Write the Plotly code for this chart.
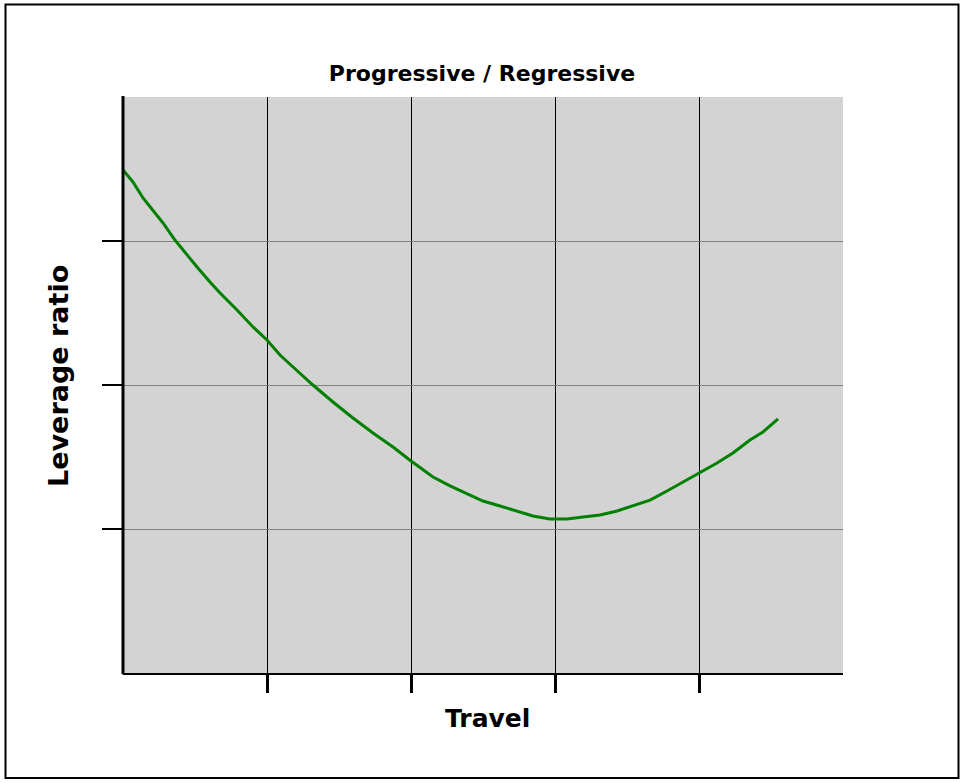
import plotly.graph_objects as go

travel = [0.0, 0.069, 0.139, 0.208, 0.278, 0.361, 0.444, 0.514, 0.604, 0.674, 0.792, 0.903,
          1.0, 1.090, 1.181, 1.319, 1.458, 1.597, 1.736, 1.875, 2.0, 2.153, 2.271, 2.389,
          2.5, 2.618, 2.736, 2.847, 2.965, 3.083, 3.194, 3.313, 3.431, 3.542, 3.660, 3.778,
          3.889, 4.0, 4.125, 4.236, 4.354, 4.444, 4.549]
leverage = [3.493, 3.410, 3.299, 3.215, 3.125, 3.007, 2.903, 2.819, 2.715, 2.639, 2.521, 2.403,
            2.313, 2.208, 2.125, 2.0, 1.882, 1.771, 1.667, 1.569, 1.472, 1.361, 1.299, 1.243,
            1.194, 1.160, 1.125, 1.090, 1.069, 1.069, 1.083, 1.097, 1.125, 1.160, 1.201, 1.264,
            1.326, 1.389, 1.458, 1.528, 1.618, 1.674, 1.764]
x_ticks = [1, 2, 3, 4]
y_ticks = [1, 2, 3]

fig = go.Figure()
fig.add_trace(go.Scatter(x=travel, y=leverage, mode="lines",
                         line=dict(color="#008000", width=3),
                         hoverinfo="skip", showlegend=False))

fig.update_layout(
    width=964, height=783,
    margin=dict(l=123, r=121, t=97, b=110),
    paper_bgcolor="white", plot_bgcolor="#d3d3d3",
    title=dict(text="<b>Progressive / Regressive</b>", x=0.5, xanchor="center",
               y=1 - 73 / 783, yanchor="middle", yref="container",
               font=dict(family="DejaVu Sans", size=22, color="black")),
    xaxis=dict(range=[0, 5], tickvals=x_ticks, ticktext=["", "", "", ""],
               showgrid=True, gridcolor="black", gridwidth=1,
               ticks="outside", ticklen=18, tickwidth=3, tickcolor="black",
               showline=True, linecolor="black", linewidth=2,
               zeroline=False, fixedrange=True),
    yaxis=dict(range=[0, 4], tickvals=y_ticks, ticktext=["", "", ""],
               showgrid=True, gridcolor="#808080", gridwidth=1,
               ticks="outside", ticklen=20, tickwidth=2, tickcolor="black",
               showline=False,
               zeroline=False, fixedrange=True),
    annotations=[
        dict(text="<b>Travel</b>", xref="paper", yref="paper", x=(487 - 123) / 720,
             y=(673 - 718) / 576, xanchor="center", yanchor="middle", showarrow=False,
             font=dict(family="DejaVu Sans", size=25, color="black")),
        dict(text="<b>Leverage ratio</b>", xref="paper", yref="paper", x=(58 - 123) / 720,
             y=(673 - 376) / 576, xanchor="center", yanchor="middle", showarrow=False,
             textangle=-90,
             font=dict(family="DejaVu Sans", size=27, color="black")),
    ],
    shapes=[
        dict(type="line", xref="paper", yref="paper",
             x0=0, x1=0, y0=-0.002, y1=(673 - 96) / 576,
             line=dict(color="black", width=3), layer="above"),
        dict(type="rect", xref="paper", yref="paper",
             x0=(5.5 - 123) / 720, x1=(958.5 - 123) / 720,
             y0=(673 - 778) / 576, y1=(673 - 4.5) / 576,
             line=dict(color="black", width=2), fillcolor="rgba(0,0,0,0)", layer="above"),
    ],
)

fig.write_html("out.html", config={"displayModeBar": False},
               post_script="document.body.style.margin='0';")
